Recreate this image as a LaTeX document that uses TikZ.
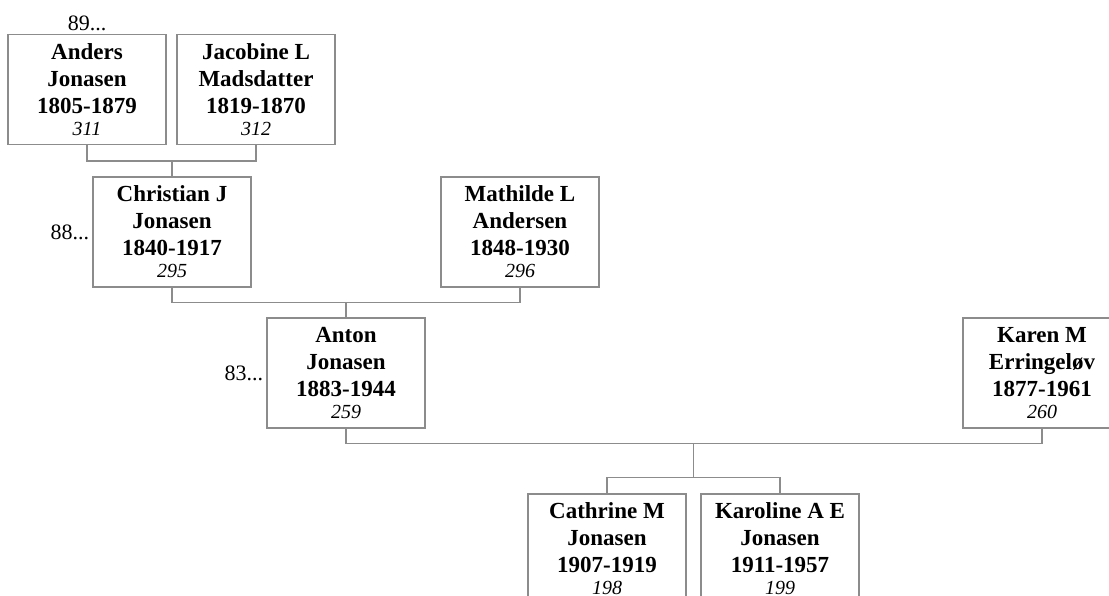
\documentclass[tikz,border=0pt]{standalone}
\usepackage{fontspec}
\setmainfont{Liberation Serif}
\usetikzlibrary{positioning, calc}
\definecolor{linegray}{HTML}{8C8C8C}
\tikzset{
    person/.style={rectangle, draw=linegray, line width=1.2pt, minimum width=158pt,
                   minimum height=110pt, inner sep=0pt, align=center,
                   font=\fontsize{23}{27}\selectfont\bfseries},
    famline/.style={draw=linegray, line width=1.2pt},
    gen/.style={font=\fontsize{22}{26}\selectfont, inner sep=3pt},
}
\newcommand{\refno}[1]{\\[-5pt]{\fontsize{20}{22}\selectfont\mdseries\itshape #1}}

\begin{document}
\begin{tikzpicture}[x=1pt, y=-1pt]
    \useasboundingbox (0,0) rectangle (1109,596);

    % Grandparents
    \node[person, label={[gen]above:89...}] at (87,89.5) (anders) {Anders\\Jonasen\\1805-1879\refno{311}};
    \node[person] at (256,89.5) (jacobine) {Jacobine L\\Madsdatter\\1819-1870\refno{312}};

    % Parents of Anton
    \node[person, label={[gen]left:88...}] at (172,232) (christian) {Christian J\\Jonasen\\1840-1917\refno{295}};
    \node[person] at (520,232) (mathilde) {Mathilde L\\Andersen\\1848-1930\refno{296}};

    % Couple
    \node[person, label={[gen]left:83...}] at (346,373) (anton) {Anton\\Jonasen\\1883-1944\refno{259}};
    \node[person] at (1042,373) (karen) {Karen M\\Erringel\o v\\1877-1961\refno{260}};

    % Children
    \node[person] at (607,549) (cathrine) {Cathrine M\\Jonasen\\1907-1919\refno{198}};
    \node[person] at (780,549) (karoline) {Karoline A E\\Jonasen\\1911-1957\refno{199}};

    % Family lines
    \coordinate (m1) at ($(anders.south)+(0,16)$);
    \draw[famline] (anders.south) |- (m1) -| (jacobine.south);
    \draw[famline] (christian.north) -- (christian.north |- m1);

    \coordinate (m2) at ($(christian.south)+(0,15)$);
    \draw[famline] (christian.south) |- (m2) -| (mathilde.south);
    \draw[famline] (anton.north) -- (anton.north |- m2);

    \coordinate (m3) at ($(anton.south)+(0,15)$);
    \draw[famline] (anton.south) |- (m3) -| (karen.south);
    \coordinate (m4) at ($(cathrine.north)+(0,-16)$);
    \draw[famline] (cathrine.north) |- (m4) -| (karoline.north);
    \coordinate (m5) at ($(cathrine.north)!0.5!(karoline.north)$);
    \draw[famline] (m5 |- m3) -- (m5 |- m4);

\end{tikzpicture}
\end{document}
